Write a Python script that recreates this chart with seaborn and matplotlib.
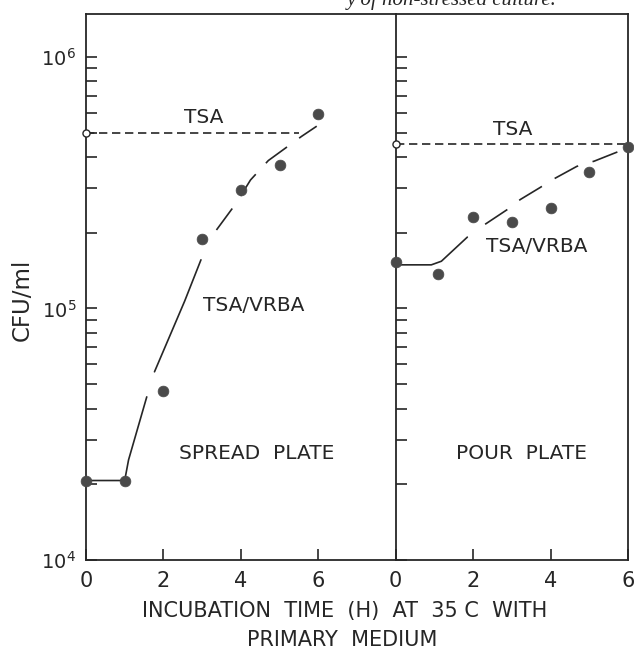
import matplotlib
matplotlib.use("Agg")
import matplotlib.pyplot as plt
import seaborn as sns
from matplotlib.ticker import LogLocator, NullFormatter, FixedLocator

# ---- Spread plate (left panel) ----
spread_hours = [0, 1, 2, 3, 4, 5, 6]
spread_cfu = [2.07e4, 2.07e4, 4.7e4, 1.88e5, 2.95e5, 3.7e5, 5.9e5]
spread_tsa_cfu = 5.0e5
spread_tsa_end_h = 5.5

# hand-fitted TSA/VRBA curve, drawn in pieces (solid lag part, then long dashes)
spread_fit_a_h = [0, 1.0, 1.1, 1.57]
spread_fit_a_cfu = [2.07e4, 2.07e4, 2.5e4, 4.45e4]
spread_fit_b_h = [1.77, 2.55, 2.97]
spread_fit_b_cfu = [5.6e4, 1.07e5, 1.56e5]
spread_fit_c_h = [3.37, 3.88, 4.25, 4.71, 5.57, 5.96]
spread_fit_c_cfu = [2.05e5, 2.62e5, 3.24e5, 3.87e5, 4.83e5, 5.3e5]

# ---- Pour plate (right panel) ----
pour_hours = [0, 1.1, 2, 3, 4, 5, 6]
pour_cfu = [1.53e5, 1.37e5, 2.3e5, 2.2e5, 2.5e5, 3.5e5, 4.4e5]
pour_tsa_cfu = 4.5e5
pour_tsa_end_h = 6.0

pour_fit_a_h = [0, 0.92, 1.18, 1.85]
pour_fit_a_cfu = [1.49e5, 1.49e5, 1.54e5, 1.92e5]
pour_fit_b_h = [2.31, 2.88, 3.22, 3.74, 4.02, 4.68, 5.13, 6.0]
pour_fit_b_cfu = [2.16e5, 2.47e5, 2.71e5, 3.03e5, 3.23e5, 3.67e5, 3.85e5, 4.35e5]

x_ticks = [0, 2, 4, 6]
y_major = [1e4, 1e5, 1e6]
y_major_labels = [r"$\mathregular{10^{4}}$", r"$\mathregular{10^{5}}$", r"$\mathregular{10^{6}}$"]

sns.set_theme(style="ticks")
plt.rcParams["font.family"] = ["DejaVu Sans"]
plt.rcParams["mathtext.fontset"] = "dejavusans"

INK = "#262626"
DOT = "#4a4a4a"
LW = 1.2
LONG_DASH = (0, (16, 9))
SHORT_DASH = (0, (5, 2.8))

fig, (ax1, ax2) = plt.subplots(
    1, 2, sharey=True, figsize=(6.34, 6.6), dpi=100,
    gridspec_kw={"width_ratios": [8, 6]},
)
fig.subplots_adjust(left=0.1356, right=0.9905, bottom=0.1515, top=0.9788, wspace=0)
fig.patch.set_facecolor("white")


def curve(ax, h, c, style):
    sns.lineplot(x=h, y=c, ax=ax, color=INK, linewidth=LW, linestyle=style,
                 estimator=None, errorbar=None, sort=False, legend=False)


def panel(ax, hours, cfu, tsa_cfu, tsa_end, pieces, xmax):
    ax.set_yscale("log")
    ax.set_xlim(0, xmax)
    ax.set_ylim(1e4, 1.48e6)
    # TSA reference level
    curve(ax, [0, tsa_end], [tsa_cfu, tsa_cfu], SHORT_DASH)
    for h, c, style in pieces:
        curve(ax, h, c, style)
    sns.scatterplot(x=hours, y=cfu, ax=ax, s=60, color=DOT, edgecolor=DOT,
                    linewidth=0.5, zorder=5, clip_on=False, legend=False)
    sns.scatterplot(x=[0], y=[tsa_cfu], ax=ax, s=26, color="white",
                    edgecolor=INK, linewidth=1.0, zorder=6, clip_on=False,
                    legend=False)
    ax.set_xticks(x_ticks)
    ax.set_xticklabels([str(t) for t in x_ticks])
    ax.tick_params(axis="x", direction="in", length=8, width=1.2, color=INK,
                   labelsize=15, pad=8, labelcolor=INK, top=False)
    ax.tick_params(axis="y", which="both", direction="in", length=8, width=1.2,
                   color=INK, right=False)
    for side in ax.spines.values():
        side.set_color(INK)
        side.set_linewidth(1.3)
    ax.set_xlabel("")
    ax.set_ylabel("")
    ax.grid(False)


panel(ax1, spread_hours, spread_cfu, spread_tsa_cfu, spread_tsa_end_h,
      [(spread_fit_a_h, spread_fit_a_cfu, "-"),
       (spread_fit_b_h, spread_fit_b_cfu, "-"),
       (spread_fit_c_h, spread_fit_c_cfu, LONG_DASH)], 8)
panel(ax2, pour_hours, pour_cfu, pour_tsa_cfu, pour_tsa_end_h,
      [(pour_fit_a_h, pour_fit_a_cfu, "-"),
       (pour_fit_b_h, pour_fit_b_cfu, LONG_DASH)], 6)

ax1.spines["right"].set_visible(False)
ax1.yaxis.set_major_locator(FixedLocator(y_major))
ax1.set_yticklabels(y_major_labels)
ax1.yaxis.set_minor_locator(LogLocator(base=10, subs=range(2, 10)))
ax1.yaxis.set_minor_formatter(NullFormatter())
ax1.tick_params(axis="y", labelsize=14, pad=7, labelcolor=INK)
ax2.tick_params(axis="y", which="both", left=True, labelleft=False)

# panel annotations
txt = dict(fontsize=14.5, color=INK, ha="center", va="center")
ax1.text(3.05, 5.75e5, "TSA", **txt)
ax1.text(4.33, 1.03e5, "TSA/VRBA", **txt)
ax1.text(4.42, 2.65e4, "SPREAD  PLATE", **txt)
ax2.text(3.02, 5.14e5, "TSA", **txt)
ax2.text(3.65, 1.77e5, "TSA/VRBA", **txt)
ax2.text(3.25, 2.66e4, "POUR  PLATE", **txt)

# axis titles
fig.text(22 / 634, 1 - 300 / 660, "CFU/ml", rotation=90, fontsize=16.5,
         color=INK, ha="center", va="center")
fig.text(345 / 634, 1 - 611 / 660, "INCUBATION  TIME  (H)  AT  35 C  WITH",
         fontsize=15, color=INK, ha="center", va="center")
fig.text(342 / 634, 1 - 640 / 660, "PRIMARY  MEDIUM",
         fontsize=15, color=INK, ha="center", va="center")

# running caption from the page above the figure
fig.text(557 / 634, 1 - 5 / 660, "y of non-stressed culture.",
         family="Liberation Serif", style="italic", fontsize=15, color=INK,
         ha="right", va="baseline")

fig.savefig("out.png", dpi=100, facecolor="white")
